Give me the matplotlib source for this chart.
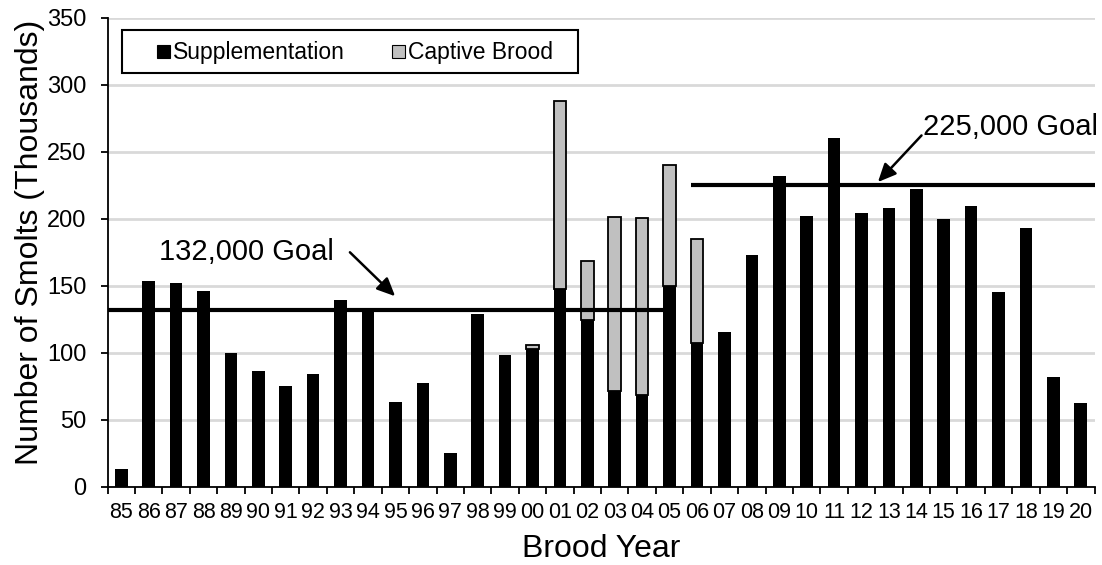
import matplotlib
matplotlib.use("Agg")
import matplotlib.pyplot as plt
from matplotlib.patches import Rectangle
import numpy as np

plt.rcParams['font.family'] = ['Liberation Sans', 'DejaVu Sans']

# Brood years and smolt releases (thousands)
brood_years = ["85", "86", "87", "88", "89", "90", "91", "92", "93", "94",
               "95", "96", "97", "98", "99", "00", "01", "02", "03", "04",
               "05", "06", "07", "08", "09", "10", "11", "12", "13", "14",
               "15", "16", "17", "18", "19", "20"]
supplementation = [13, 153, 152, 146, 100, 86, 75, 84, 139, 130,
                   63, 77, 25, 129, 98, 102.5, 147.5, 124.5, 71.5, 68.5,
                   150, 107, 115, 173, 232, 202, 260, 204, 208, 222,
                   200, 209, 145, 193, 81.5, 62.5]
captive_brood = [0, 0, 0, 0, 0, 0, 0, 0, 0, 0,
                 0, 0, 0, 0, 0, 3, 140, 44, 130, 132,
                 90, 78, 0, 0, 0, 0, 0, 0, 0, 0,
                 0, 0, 0, 0, 0, 0]

# Release goals (thousands) and the brood years each one applies to
goal_early = 132
goal_late = 225
goal_early_span = ("85", "05")
goal_late_span = ("06", "20")

SUPP_COLOR = "black"
CAPT_COLOR = "#c0c0c0"

W, H = 1102, 565
fig = plt.figure(figsize=(W / 100, H / 100), dpi=100)
ax = fig.add_axes([0.0976, 0.1389, 0.8956, 0.8301])

x = np.arange(len(brood_years))
width = 0.46
supp = np.array(supplementation)
capt = np.array(captive_brood)

ax.bar(x, supp, width=width, color=SUPP_COLOR, zorder=3)
has_capt = capt > 0
ax.bar(x[has_capt], capt[has_capt], width=width, bottom=supp[has_capt],
       color=CAPT_COLOR, edgecolor="black", linewidth=1.3, zorder=3)

# Goal lines
i0 = brood_years.index(goal_early_span[0])
i1 = brood_years.index(goal_early_span[1])
j0 = brood_years.index(goal_late_span[0])
j1 = brood_years.index(goal_late_span[1])
ax.plot([i0 - 0.5, i1 - width / 2], [goal_early, goal_early],
        color="black", lw=3.0, solid_capstyle="butt", zorder=4)
ax.plot([j0 - width / 2, j1 + 0.5], [goal_late, goal_late],
        color="black", lw=3.0, solid_capstyle="butt", zorder=4)

# Axes styling
ax.set_xlim(-0.5, len(brood_years) - 0.5)
ax.set_ylim(0, 350)
ax.set_yticks(np.arange(0, 351, 50))
ax.set_xticks(x)
ax.set_xticklabels(brood_years, fontsize=15.5)
ax.set_xticks(np.arange(-0.5, len(brood_years)), minor=True)
ax.tick_params(axis="x", which="major", length=0, pad=11)
ax.tick_params(axis="x", which="minor", length=5, width=1.3, direction="out")
ax.tick_params(axis="y", which="major", length=5, width=1.3, direction="out",
               labelsize=17, pad=10)
ax.yaxis.grid(True, color="#d9d9d9", lw=2, zorder=0)
ax.set_axisbelow(True)
for s in ["top", "right"]:
    ax.spines[s].set_visible(False)
for s in ["left", "bottom"]:
    ax.spines[s].set_linewidth(1.3)
    ax.spines[s].set_zorder(5)

ax.set_xlabel("Brood Year", fontsize=23, labelpad=8)
ax.set_ylabel("Number of Smolts (Thousands)", fontsize=23, labelpad=4)
ax.yaxis.set_label_coords(-0.063, 0.52)

# Goal annotations
arrow = dict(arrowstyle="-|>,head_length=1.1,head_width=0.5",
             color="black", lw=1.8, shrinkA=0, shrinkB=0)
ax.text(4.55, 174.8, "132,000 Goal", fontsize=21, ha="center", va="center")
ax.annotate("", xy=(9.99, 142), xytext=(8.34, 174.8), arrowprops=arrow)
ax.text(32.45, 268, "225,000 Goal", fontsize=21, ha="center", va="center")
ax.annotate("", xy=(27.6, 227.2), xytext=(29.19, 262), arrowprops=arrow)


# Legend box drawn in figure pixel positions
def fx(px):
    return px / W


def fy(py):
    return 1 - py / H


fig.patches.append(Rectangle((fx(122), fy(73)), fx(578) - fx(122), fy(30) - fy(73),
                             transform=fig.transFigure, facecolor="white",
                             edgecolor="black", lw=1.5, zorder=10))
legend_items = [("Supplementation", SUPP_COLOR, 157, 173),
                ("Captive Brood", CAPT_COLOR, 392, 408)]
for label, color, sq_x, tx in legend_items:
    fig.patches.append(Rectangle((fx(sq_x), fy(57.5)), fx(12.5), 12.5 / H,
                                 transform=fig.transFigure, facecolor=color,
                                 edgecolor="black", lw=0.8, zorder=11))
    fig.text(fx(tx), fy(59.3), label, fontsize=16.5, ha="left", va="baseline",
             zorder=12)

fig.savefig("out.png", dpi=100)
